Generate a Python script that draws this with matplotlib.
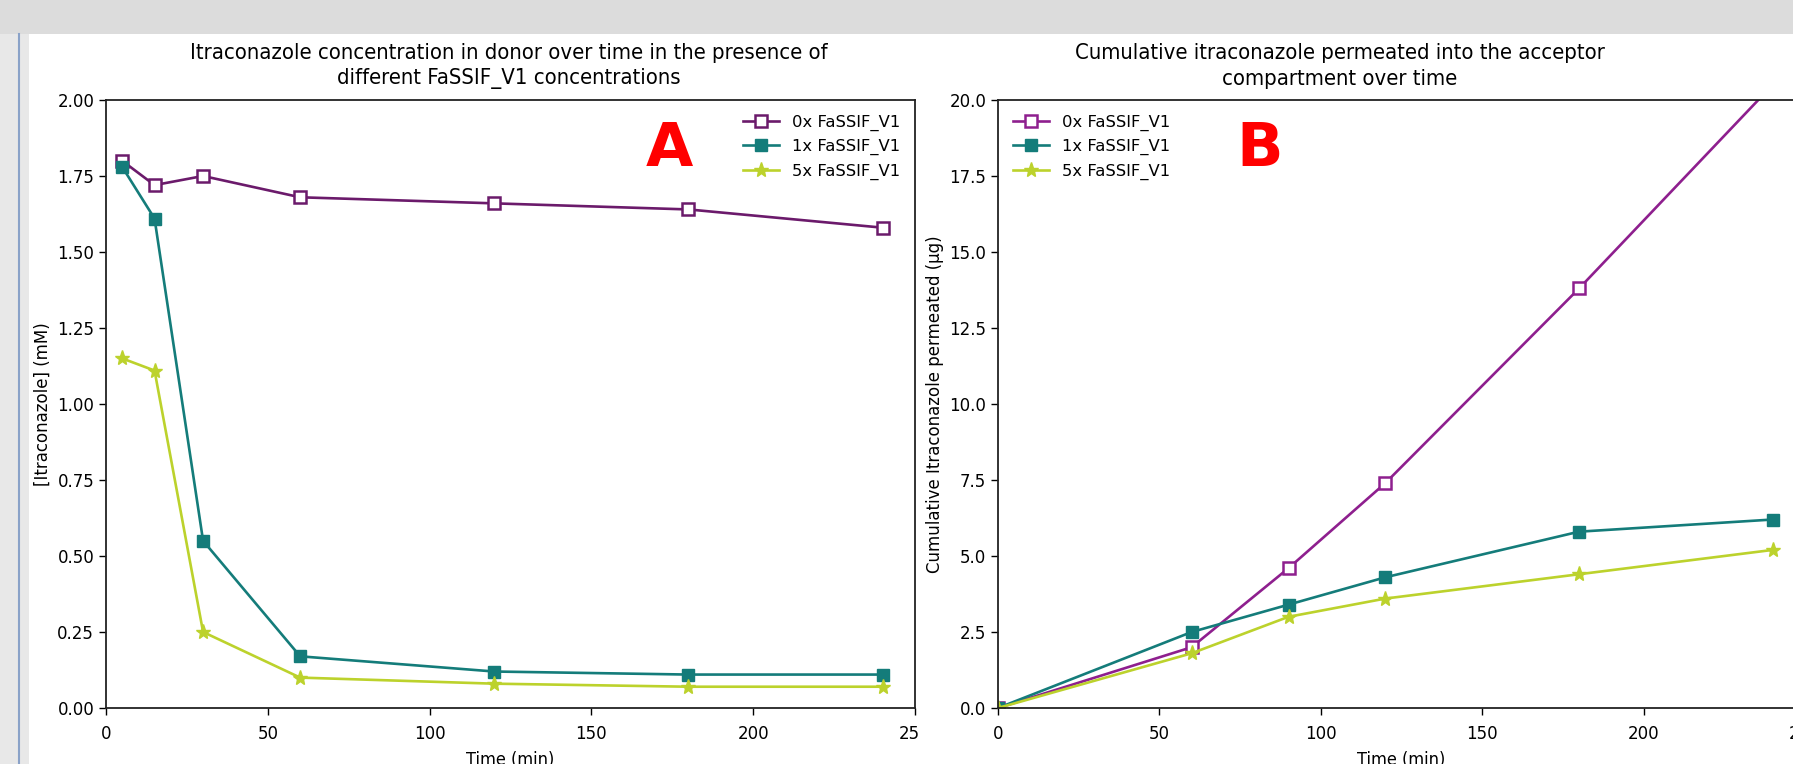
import numpy as np
import matplotlib
matplotlib.use("Agg")
import matplotlib.pyplot as plt
from matplotlib.patches import Rectangle

# Panel A: donor concentration
t_donor = [5, 15, 30, 60, 120, 180, 240]
donor_0x = [1.80, 1.72, 1.75, 1.68, 1.66, 1.64, 1.58]
donor_1x = [1.78, 1.61, 0.55, 0.17, 0.12, 0.11, 0.11]
donor_5x = [1.15, 1.11, 0.25, 0.10, 0.08, 0.07, 0.07]

# Panel B: cumulative permeated
t_acc = [0, 60, 90, 120, 180, 240]
acc_0x = [0.0, 2.0, 4.6, 7.4, 13.8, 20.5]
acc_1x = [0.0, 2.5, 3.4, 4.3, 5.8, 6.2]
acc_5x = [0.0, 1.8, 3.0, 3.6, 4.4, 5.2]

labels = ["0x FaSSIF_V1", "1x FaSSIF_V1", "5x FaSSIF_V1"]

W, H = 1793, 764
fig = plt.figure(figsize=(W / 100, H / 100), dpi=100)
fig.patch.set_facecolor("#dcdcdc")

# screenshot background: white sheet, grey strip on the left with a blue rule
fig.add_artist(Rectangle((29 / W, 0), 1, 1 - 34 / H, transform=fig.transFigure,
                         facecolor="white", edgecolor="none", zorder=0))
fig.add_artist(Rectangle((0, 0), 29 / W, 1 - 34 / H, transform=fig.transFigure,
                         facecolor="#e8e8e8", edgecolor="none", zorder=0))
fig.add_artist(plt.Line2D([19 / W, 19 / W], [0, 1 - 34 / H], transform=fig.transFigure,
                          color="#8aa2c8", lw=1.5, zorder=1))

def px_axes(x0, x1, ytop, ybot):
    return fig.add_axes([x0 / W, 1 - ybot / H, (x1 - x0) / W, (ybot - ytop) / H])

axA = px_axes(106, 915, 100, 708)
axB = px_axes(998, 1805, 100, 708)

tick_fs = 12

def style(ax, purple, t, y0, y1, y2, ylim, yticks, yfmt):
    teal = "#147c7a"
    lime = "#bcd22c"
    ax.plot(t, y0, "-s", color=purple, mfc="white", mec=purple, mew=1.8, lw=1.9, ms=9,
            label=labels[0])
    ax.plot(t, y1, "-s", color=teal, lw=1.9, ms=9, label=labels[1])
    ax.plot(t, y2, "-*", color=lime, ms=11, lw=1.9, label=labels[2])
    ax.set_xlim(0, 250)
    ax.set_ylim(*ylim)
    ax.set_xticks([0, 50, 100, 150, 200, 250])
    ax.set_yticks(yticks)
    ax.set_yticklabels([yfmt.format(v) for v in yticks])
    ax.tick_params(labelsize=tick_fs, length=5, width=1)
    ax.tick_params(axis="x", pad=7)
    for s in ax.spines.values():
        s.set_linewidth(1.3)
        s.set_color("#222222")
    ax.set_xlabel("Time (min)", fontsize=13, fontstretch="condensed", labelpad=6)

style(axA, "#6b1a6b", t_donor, donor_0x, donor_1x, donor_5x,
      (0, 2.0), np.arange(0, 2.01, 0.25), "{:.2f}")
axA.set_ylabel("[Itraconazole] (mM)", fontsize=12)
axA.legend(loc="upper right", frameon=False, fontsize=11.8, handlelength=2.2)

style(axB, "#8e1f8e", t_acc, acc_0x, acc_1x, acc_5x,
      (0, 20.0), np.arange(0, 20.01, 2.5), "{:.1f}")
axB.set_ylabel("Cumulative Itraconazole permeated (µg)", fontsize=12)
axB.legend(loc="upper left", frameon=False, fontsize=11.8, handlelength=2.2)

fig.text(509 / W, 1 - 66 / H,
         "Itraconazole concentration in donor over time in the presence of\ndifferent FaSSIF_V1 concentrations",
         ha="center", va="center", fontsize=15.8, fontstretch="condensed", linespacing=1.35)
fig.text(1340 / W, 1 - 66 / H,
         "Cumulative itraconazole permeated into the acceptor\ncompartment over time",
         ha="center", va="center", fontsize=15.8, fontstretch="condensed", linespacing=1.35)

fig.text(669 / W, 1 - 150 / H, "A", color="red", fontsize=44, fontweight="bold",
         ha="center", va="center")
fig.text(1260 / W, 1 - 150 / H, "B", color="red", fontsize=44, fontweight="bold",
         ha="center", va="center")

# the right screenshot overlaps the end of panel A's last x tick label
fig.add_artist(Rectangle((918 / W, 0), 44 / W, 44 / H, transform=fig.transFigure,
                         facecolor="white", edgecolor="none", zorder=5))

fig.savefig("out.png", dpi=100)
